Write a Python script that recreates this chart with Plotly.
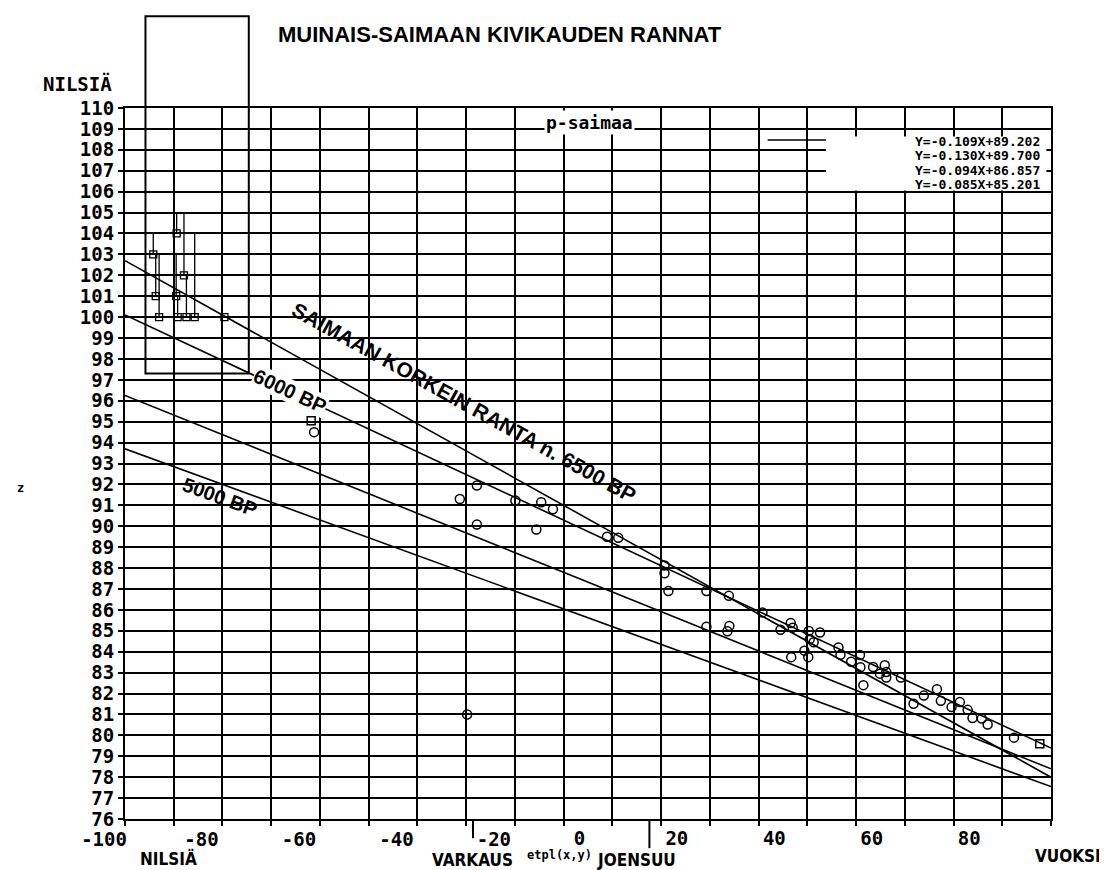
import plotly.graph_objects as go

# ---------------- data ----------------
x_range = [-100, 90]
y_range = [76, 110]

# shoreline observations (open circles)
circ_x = [-61.2, -31.3, -27.8, -27.8, -19.9, -14.6, -12.2, -15.6, -1.1, 1.2, -29.8,
          10.7, 10.7, 11.5, 19.3, 23.9, 30.8, 19.3, 24.0, 23.6, 34.5, 36.6, 37.0, 36.7,
          40.3, 42.6, 40.5, 41.3, 39.4, 40.2, 46.4, 46.8, 49.0, 50.8, 50.9, 51.5, 53.5,
          55.9, 56.2, 56.2, 54.9, 59.2, 63.9, 61.8, 66.6, 67.4, 69.6, 71.3, 72.9, 73.9,
          75.8, 77.0, 82.4]
circ_y = [94.5, 91.3, 91.95, 90.08, 91.23, 91.15, 90.81, 89.84, 89.5, 89.45, 81.0,
          88.12, 87.75, 86.9, 86.9, 86.67, 85.88, 85.19, 85.23, 84.98, 85.05, 85.37, 85.15, 83.74,
          84.99, 84.92, 84.6, 84.45, 84.05, 83.74, 84.2, 83.85, 83.52, 83.84, 83.26, 82.4, 83.27,
          83.35, 83.03, 82.77, 82.95, 82.77, 81.9, 81.51, 82.21, 81.65, 81.35, 81.59, 81.22, 80.83,
          80.8, 80.52, 79.89]

# square observations
sq_x = [-61.8, 87.7]
sq_y = [95.05, 79.6]

# Nilsiä samples with upper range
nil_x = [-94.2, -93.7, -93.0, -89.4, -89.5, -89.2, -87.9, -87.4, -85.7, -79.6]
nil_y = [103, 101, 100, 104, 101, 100, 102, 100, 100, 100]
nil_top = [104, 103, 103, 105, 103, 101, 105, 102, 104, 100]

# regression lines
slopes = [-0.130, -0.109, -0.094, -0.085]
intercepts = [89.700, 89.202, 86.857, 85.201]
line_x = [-100, 90]
eq_labels = ["Y=-0.109X+89.202", "Y=-0.130X+89.700", "Y=-0.094X+86.857", "Y=-0.085X+85.201"]

x_tick_neg = [-100, -80, -60, -40, -20]
x_tick_pos = [0, 20, 40, 60, 80]
y_ticks = list(range(76, 111))

# town markers on x axis
towns = ["NILSIÄ", "VARKAUS", "JOENSUU", "VUOKSI"]
town_label_x = [-91.0, -28.6, 5.0, 96.0]
town_bar_x = [None, -28.6, 7.6, None]

# ---------------- figure ----------------
MONO = "DejaVu Sans Mono"
SANS = "Liberation Sans, Arial, sans-serif"
HEAVY = "Liberation Sans Narrow, DejaVu Sans Condensed, Liberation Sans, sans-serif"

fig = go.Figure()

for s, b in zip(slopes, intercepts):
    fig.add_trace(go.Scatter(
        x=line_x, y=[s * v + b for v in line_x], mode="lines",
        line=dict(color="black", width=1.6), xaxis="x2", yaxis="y",
        hoverinfo="skip", showlegend=False))

fig.add_trace(go.Scatter(
    x=circ_x, y=circ_y, mode="markers",
    marker=dict(symbol="circle-open", size=9, color="black", line=dict(width=1.5, color="black")),
    showlegend=False))

fig.add_trace(go.Scatter(
    x=sq_x, y=sq_y, mode="markers",
    marker=dict(symbol="square-open", size=8, color="black", line=dict(width=1.5, color="black")),
    showlegend=False))

fig.add_trace(go.Scatter(
    x=nil_x, y=nil_y, mode="markers",
    marker=dict(symbol="square-open", size=7, color="black", line=dict(width=1.3, color="black")),
    error_y=dict(type="data", symmetric=False,
                 array=[t - v for t, v in zip(nil_top, nil_y)],
                 arrayminus=[0] * len(nil_y), width=0, thickness=1.3, color="black"),
    showlegend=False))

tickfont = dict(family=MONO, size=19, color="black", weight="bold")

axis_common = dict(showline=True, linecolor="black", linewidth=2, mirror=True,
                   zeroline=False, showgrid=True, gridcolor="black", gridwidth=2,
                   ticks="outside", ticklen=5, tickwidth=2, tickcolor="black",
                   tickfont=tickfont)

fig.update_layout(
    width=1107, height=870, autosize=False,
    margin=dict(l=117, r=64, t=100, b=59),
    paper_bgcolor="white", plot_bgcolor="white",
    showlegend=False,
    xaxis=dict(range=x_range, tickmode="array", tickvals=x_tick_neg,
               ticktext=[str(v) for v in x_tick_neg], ticklabelshift=-21,
               ticklabelstandoff=-3,
               minor=dict(tick0=-100, dtick=10, showgrid=True, gridcolor="black",
                          gridwidth=2, ticks="outside", ticklen=5, tickwidth=2,
                          tickcolor="black"),
               **axis_common),
    xaxis2=dict(range=x_range, matches="x", overlaying="x", side="bottom", anchor="y",
                tickmode="array", tickvals=x_tick_pos,
                ticktext=[str(v) for v in x_tick_pos], ticklabelshift=-33,
                ticklabelstandoff=-3,
                showline=False, zeroline=False, showgrid=False,
                ticks="outside", ticklen=5, tickwidth=2, tickcolor="black",
                tickfont=tickfont),
    yaxis=dict(range=y_range, tickmode="array", tickvals=y_ticks,
               ticktext=[str(v) for v in y_ticks], **axis_common),
)

def px_x(v):
    return (v - x_range[0]) / (x_range[1] - x_range[0])

def px_y(v):
    return (v - y_range[0]) / (y_range[1] - y_range[0])

# frame around the Nilsiä samples
fig.add_shape(type="rect", xref="paper", yref="paper",
              x0=px_x(-95.8), x1=px_x(-74.6), y0=px_y(97.3), y1=1.129,
              line=dict(color="black", width=2), fillcolor="rgba(0,0,0,0)")

# white panel behind the equations
fig.add_shape(type="rect", xref="paper", yref="paper", layer="above",
              x0=0.757, x1=0.995, y0=0.884, y1=0.960,
              line=dict(width=0), fillcolor="white")
# legend stub line
fig.add_shape(type="line", xref="paper", yref="paper", layer="above",
              x0=0.694, x1=0.757, y0=0.955, y1=0.955,
              line=dict(color="black", width=1.5))

# town marker bars below the axis
bar_len = [0, 0.027, 0.041, 0]
for bx, bl in zip(town_bar_x, bar_len):
    if bx is not None:
        fig.add_shape(type="line", xref="paper", yref="paper",
                      x0=px_x(bx), x1=px_x(bx), y0=0, y1=-bl,
                      line=dict(color="black", width=2))

ann = []
# title
ann.append(dict(text="MUINAIS-SAIMAAN KIVIKAUDEN RANNAT", xref="paper", yref="paper",
                x=0.163, y=1.1027, xanchor="left", yanchor="middle", showarrow=False,
                font=dict(family=SANS, size=22, color="black", weight="bold")))
ann.append(dict(text="NILSIÄ", xref="paper", yref="paper", x=-0.012, y=1.034,
                xanchor="right", yanchor="middle", showarrow=False,
                font=dict(family=MONO, size=19, color="black", weight="bold")))
ann.append(dict(text="z", xref="paper", yref="paper", x=-0.113, y=0.466,
                xanchor="center", yanchor="middle", showarrow=False,
                font=dict(family=MONO, size=12, color="black", weight="bold")))
ann.append(dict(text="p-saimaa", xref="paper", yref="paper", x=0.502, y=0.979,
                xanchor="center", yanchor="middle", showarrow=False, bgcolor="white",
                borderpad=1,
                font=dict(family=MONO, size=18, color="black", weight="bold")))
ann.append(dict(text="etpl(x,y)", xref="paper", yref="paper", x=px_x(-10.75), y=-0.0506,
                xanchor="center", yanchor="middle", showarrow=False, borderpad=0,
                font=dict(family=MONO, size=12, color="black", weight="bold")))
# equations
eq_y = [0.953, 0.933, 0.912, 0.892]
for t, yy in zip(eq_labels, eq_y):
    ann.append(dict(text=t, xref="paper", yref="paper", x=0.989, y=yy,
                    xanchor="right", yanchor="middle", showarrow=False, borderpad=0,
                    font=dict(family=MONO, size=13, color="black", weight="bold")))
# line labels
ann.append(dict(text="SAIMAAN KORKEIN RANTA n. 6500 BP", x=-30.4, y=95.9, xref="x", yref="y",
                textangle=29, showarrow=False,
                font=dict(family=SANS, size=21, color="black", weight="bold")))
ann.append(dict(text="6000 BP", x=-66.2, y=96.45, xref="x", yref="y",
                textangle=25, showarrow=False, bgcolor="white", borderpad=0,
                font=dict(family=SANS, size=20, color="black", weight="bold")))
ann.append(dict(text="5000 BP", x=-80.5, y=91.4, xref="x", yref="y",
                textangle=20, showarrow=False,
                font=dict(family=SANS, size=20, color="black", weight="bold")))
# town labels
town_y = [-0.0549, -0.0577, -0.0577, -0.052]
town_anchor = ["center", "center", "center", "right"]
for name, tx, ty, xa in zip(towns, town_label_x, town_y, town_anchor):
    xp = px_x(tx) if xa == "center" else 1.055
    ann.append(dict(text=name, xref="paper", yref="paper", x=xp, y=ty,
                    xanchor=xa, yanchor="middle", showarrow=False, borderpad=0,
                    font=dict(family=HEAVY, size=17, color="black", weight=900)))

fig.update_layout(annotations=ann)

fig.write_html("out.html")
